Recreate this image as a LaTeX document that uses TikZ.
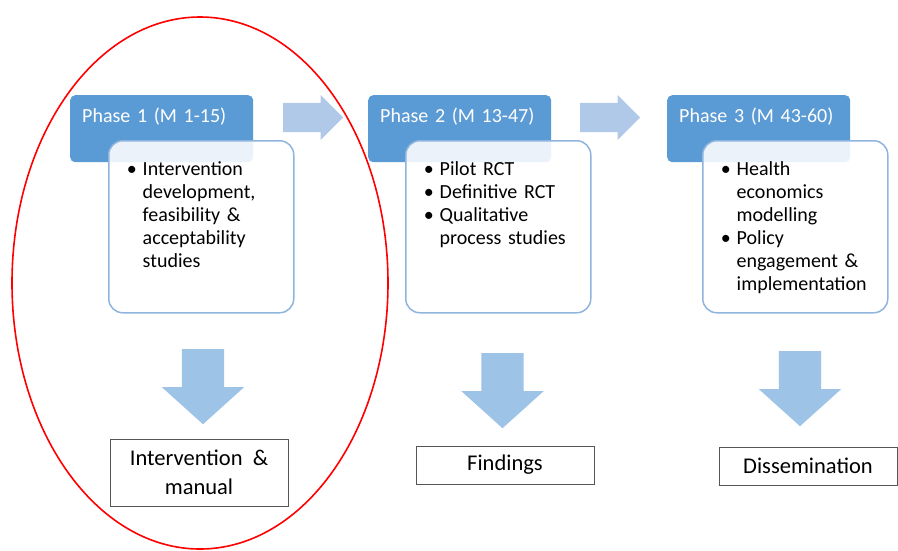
\documentclass[tikz,border=0pt]{standalone}
\usepackage{fontspec}
\setmainfont{Carlito}
\usepackage{tikz}
\usetikzlibrary{shapes.arrows}
\definecolor{headblue}{HTML}{5B9BD5}
\definecolor{edgeblue}{HTML}{8FB4DE}
\definecolor{arrowblue}{HTML}{9DC3E6}
\definecolor{paleblue}{HTML}{B0C9E8}
\definecolor{boxgray}{HTML}{555555}
\tikzstyle{phase_head}=[anchor=north west, rectangle, rounded corners=5pt, fill=headblue, text=white,
    font=\fontsize{20}{23}\selectfont, text width=159pt, inner xsep=12pt, inner ysep=0pt,
    text height=27.5pt, text depth=39.5pt, align=left]
\tikzstyle{phase_body}=[anchor=north west, rectangle, rounded corners=14pt, draw=edgeblue, line width=1.5pt,
    fill=white, fill opacity=0.88, text opacity=1, text=black, font=\fontsize{20}{23}\selectfont,
    text width=149pt, inner xsep=18pt, inner ysep=0pt, text height=34.5pt, text depth=137.5pt, align=left]
\tikzstyle{output_box}=[rectangle, draw=boxgray, line width=1pt, minimum width=178pt, inner sep=0pt,
    font=\fontsize{22.5}{29}\selectfont, align=center]
\tikzstyle{step_right}=[single arrow, anchor=tail, fill=paleblue, inner xsep=0pt, inner ysep=14.5pt, minimum width=0pt,
    minimum height=60pt, single arrow head extend=8pt]
\tikzstyle{step_down}=[single arrow, anchor=tail, rotate=-90, fill=arrowblue, inner xsep=0pt, inner ysep=21pt, minimum width=0pt,
    minimum height=75pt, single arrow head extend=20pt, single arrow tip angle=96]
\newcommand{\bulletlist}[1]{\begin{tabular}[t]{@{}l@{\hspace{6pt}}l@{}}#1\end{tabular}}
\begin{document}
\begin{tikzpicture}[x=1pt, y=-1pt]
          \useasboundingbox (0,0) rectangle (898,550);
          \node[phase_head] (head1) at (70,95) {Phase 1 (M 1-15)};
          \node[phase_head] (head2) at (368,95) {Phase 2 (M 13-47)};
          \node[phase_head] (head3) at (667,95) {Phase 3 (M 43-60)};
          \node[phase_body] (body1) at (108,140) {\bulletlist{\textbullet & Intervention\\ & development,\\ & feasibility \&\\ & acceptability\\ & studies}};
          \node[phase_body] (body2) at (405,140) {\bulletlist{\textbullet & Pilot RCT\\ \textbullet & Definitive RCT\\ \textbullet & Qualitative\\ & process studies}};
          \node[phase_body] (body3) at (702,140) {\bulletlist{\textbullet & Health\\ & economics\\ & modelling\\ \textbullet & Policy\\ & engagement \&\\ & implementation}};
          \node[step_right] (next1) at (283,117.5) {};
          \node[step_right] (next2) at (580,117.5) {};
          \node[step_down] (down1) at (203,349) {};
          \node[step_down] (down2) at (502.5,353) {};
          \node[step_down] (down3) at (800,351) {};
          \node[output_box, minimum height=67pt] (out1) at (199,472.5) {Intervention\ \ \&\\manual};
          \node[output_box, minimum height=38pt] (out2) at (505,465) {Findings};
          \node[output_box, minimum height=38pt] (out3) at (808,466) {Dissemination};
          \draw[red, line width=1.6pt] (200,283) ellipse [x radius=188, y radius=266];
        \end{tikzpicture}
\end{document}
